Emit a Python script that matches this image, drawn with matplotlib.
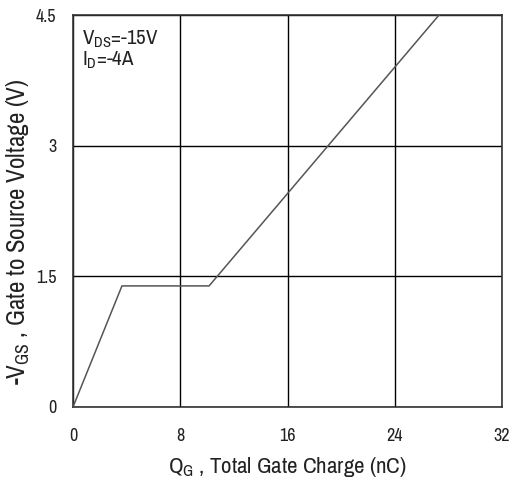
import matplotlib
matplotlib.use("Agg")
import matplotlib.pyplot as plt

# Gate charge curve
qg = [0.0, 3.65, 10.15, 27.3]
vgs = [0.0, 1.39, 1.39, 4.5]

xticks = [0, 8, 16, 24, 32]
yticks = [0, 1.5, 3, 4.5]
ytick_labels = ["0", "1.5", "3", "4.5"]

font = "Archivo Narrow"
plt.rcParams["font.family"] = [font, "Liberation Sans", "DejaVu Sans"]
plt.rcParams["mathtext.fontset"] = "custom"
plt.rcParams["mathtext.rm"] = font
plt.rcParams["mathtext.default"] = "regular"

text_color = "#222222"

fig = plt.figure(figsize=(5.12, 4.86), dpi=100)
ax = fig.add_axes([0.1426, 0.1626, 0.8379, 0.8064])

ax.plot(qg, vgs, color="#555555", lw=1.1, zorder=3)

ax.set_xlim(0, 32)
ax.set_ylim(0, 4.5)
ax.set_xticks(xticks)
ax.set_yticks(yticks)
ax.set_yticklabels(ytick_labels)
ax.grid(True, color="black", lw=1.0)
ax.tick_params(length=0, pad=12, labelsize=13, colors=text_color)
ax.tick_params(axis="x", pad=15)
for s in ax.spines.values():
    s.set_color("#333333")
    s.set_linewidth(1.2)

ax.set_xlabel("Q$_G$ , Total Gate Charge (nC)", fontsize=16.5,
              color=text_color, labelpad=8)
ax.set_ylabel("-V$_{GS}$ , Gate to Source Voltage (V)", fontsize=18,
              color=text_color)
ax.yaxis.set_label_coords(-0.096, 0.446)

ax.text(0.022, 0.965, "V$_{DS}$=-15V\nI$_D$=-4A", transform=ax.transAxes,
        fontsize=15, color=text_color, va="top", ha="left",
        linespacing=1.0)

fig.savefig("out.png", dpi=100)
